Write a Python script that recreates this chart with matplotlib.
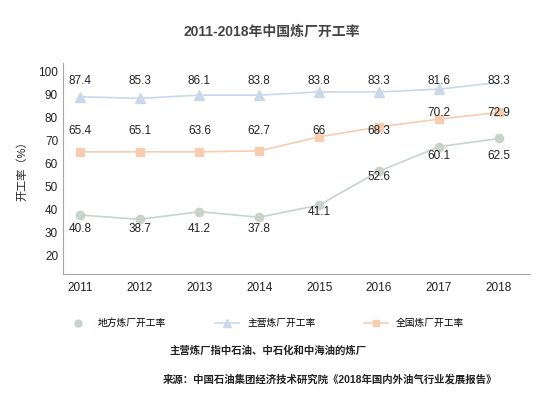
import matplotlib.pyplot as plt
from matplotlib.lines import Line2D

plt.rcParams['font.family'] = ['Liberation Sans', 'Noto Sans CJK SC', 'DejaVu Sans']

# ================= 数据 =================
years = [2011, 2012, 2013, 2014, 2015, 2016, 2017, 2018]

# 图中标注的数值
local_labels = ['40.8', '38.7', '41.2', '37.8', '41.1', '52.6', '60.1', '62.5']
major_labels = ['87.4', '85.3', '86.1', '83.8', '83.8', '83.3', '81.6', '83.3']
total_labels = ['65.4', '65.1', '63.6', '62.7', '66', '68.3', '70.2', '72.9']

# 图中折线点的实际位置（按坐标轴读出）
local_pts = [37.6, 35.7, 39.0, 36.6, 41.9, 56.6, 67.2, 70.8]
major_pts = [88.9, 88.2, 89.6, 89.6, 91.0, 91.0, 92.2, 95.1]
total_pts = [65.0, 65.0, 65.0, 65.4, 71.5, 75.8, 79.2, 82.1]

# 标注文字所在高度
local_text_y = [31.5, 31.5, 31.5, 31.5, 38.9, 54.0, 63.1, 63.1]
major_text_y = [95.7] * 8
total_text_y = [74.0, 74.0, 74.0, 74.0, 74.0, 74.0, 81.8, 81.8]

c_local = '#c8d3cc'
c_major = '#c9d8ea'
c_total = '#f7cdb2'

# ================= 画图 =================
fig = plt.figure(figsize=(5.5, 3.97), dpi=100)
ax = fig.add_axes([0.1145, 0.31, 0.849, 0.531])

ax.plot(years, local_pts, color=c_local, marker='o', markersize=6, linewidth=1.2)
ax.plot(years[:-1], major_pts[:-1], color=c_major, marker='^', markersize=7, linewidth=1.2)
ax.plot(years[-2:], major_pts[-2:], color=c_major, linewidth=1.2)
ax.plot(years, total_pts, color=c_total, marker='s', markersize=6, linewidth=1.2)

for lbls, ys in [(local_labels, local_text_y), (major_labels, major_text_y), (total_labels, total_text_y)]:
    for x, t, y in zip(years, lbls, ys):
        ax.text(x, y, t, ha='center', va='center', fontsize=8.5, color='#222222')

ax.set_xlim(2010.72, 2018.52)
ax.set_ylim(12, 103.5)
ax.set_xticks(years)
ax.set_yticks(range(20, 101, 10))
ax.tick_params(length=0, labelsize=8.5, colors='#222222')
ax.tick_params(axis='x', pad=6)
for s in ['top', 'right']:
    ax.spines[s].set_visible(False)
for s in ['left', 'bottom']:
    ax.spines[s].set_color('#a6a6a6')
ax.set_ylabel('开工率（%）', fontsize=8, color='#222222', labelpad=8)

fig.text(0.495, 0.92, '2011-2018年中国炼厂开工率', ha='center', va='center',
         fontsize=10, fontweight='bold', color='#444444')

handles = [
    Line2D([], [], color=c_local, marker='o', linestyle='none', markersize=5),
    Line2D([], [], color=c_major, marker='^', markersize=6, linewidth=1.2),
    Line2D([], [], color=c_total, marker='s', markersize=5, linewidth=1.2),
]
fig.legend(handles, ['地方炼厂开工率', '主营炼厂开工率', '全国炼厂开工率'],
           loc='center', bbox_to_anchor=(0.482, 0.186), ncol=3, frameon=False,
           fontsize=7, columnspacing=5, handlelength=2.5, handletextpad=0.8)

fig.text(0.487, 0.116, '主营炼厂指中石油、中石化和中海油的炼厂', ha='center', va='center',
         fontsize=7.5, fontweight='bold', color='#222222')
fig.text(0.6, 0.045, '来源：中国石油集团经济技术研究院《2018年国内外油气行业发展报告》',
         ha='center', va='center', fontsize=7.5, fontweight='bold', color='#222222')

plt.savefig('out.png', dpi=100)
